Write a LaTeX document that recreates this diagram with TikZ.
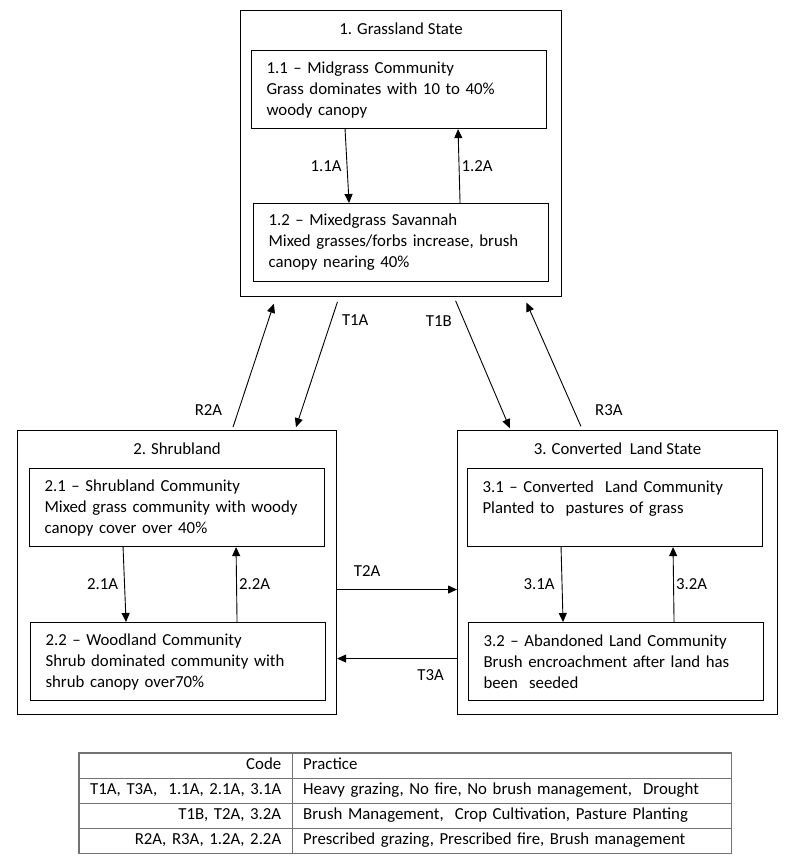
\documentclass[tikz,border=0pt]{standalone}
\usepackage{fontspec}
\setmainfont{Carlito}
\usetikzlibrary{arrows.meta, positioning, matrix}

\begin{document}
\begin{tikzpicture}[
    x=1pt, y=-1pt,
    font=\fontsize{16.8}{21}\selectfont,
    state/.style={draw, line width=1.1pt, anchor=north west, inner sep=0pt, minimum width=320pt, minimum height=284pt},
    title/.style={anchor=base, yshift=-24pt},
    phase/.style={draw, line width=1.1pt, anchor=north west, text width=265pt, align=left, inner xsep=15pt, inner ysep=9pt, minimum height=78pt},
    arrow/.style={-{Triangle[length=9pt, width=8pt]}, line width=0.9pt},
    code/.style={inner sep=2pt},
    rule/.style={draw=black!55, line width=1.3pt}
]
    \useasboundingbox (0,0) rectangle (800,868);

    % States
    \node[state, minimum width=321pt, minimum height=286pt, label={[title]north:1. Grassland State}] (grass) at (240,10) {};
    \node[state, minimum width=319pt, label={[title]north:2. Shrubland}] (shrub) at (17,430) {};
    \node[state, label={[title]north:3. Converted\ \ Land State}] (conv) at (457,430) {};

    % Community phases
    \node[phase] (p11) at (251,50) {1.1 -- Midgrass Community\\Grass dominates with 10 to 40\%\\woody canopy};
    \node[phase] (p12) at (253,203) {1.2 -- Mixedgrass Savannah\\Mixed grasses/forbs increase, brush\\canopy nearing 40\%};
    \node[phase] (p21) at (29,468) {2.1 -- Shrubland Community\\Mixed grass community with woody\\canopy cover over 40\%};
    \node[phase] (p22) at (30,622) {2.2 -- Woodland Community\\Shrub dominated community with\\shrub canopy over70\%};
    \node[phase] (p31) at (467,468) {3.1 -- Converted\ \ Land Community\\Planted to\ \ pastures of grass\\\mbox{}};
    \node[phase] (p32) at (468,622) {3.2 -- Abandoned Land Community\\Brush encroachment after land has\\been\ \ seeded};

    % Pathways within states
    \draw[arrow] ([xshift=-54pt]p11.south) -- node[code, left=3pt] {1.1A} ([xshift=-52pt]p12.north);
    \draw[arrow] ([xshift=59pt]p12.north) -- node[code, right] {1.2A} ([xshift=59pt]p11.south);
    \draw[arrow] ([xshift=-54pt]p21.south) -- node[code, left=4pt] {2.1A} ([xshift=-52pt]p22.north);
    \draw[arrow] ([xshift=59pt]p22.north) -- node[code, right] {2.2A} ([xshift=59pt]p21.south);
    \draw[arrow] ([xshift=-54pt]p31.south) -- node[code, left=5pt] {3.1A} ([xshift=-53pt]p32.north);
    \draw[arrow] ([xshift=58pt]p32.north) -- node[code, right] {3.2A} ([xshift=58pt]p31.south);

    % Transitions and restorations between states
    \draw[arrow, shorten <=5pt, shorten >=3pt] ([xshift=-62pt]grass.south) -- node[code, pos=0.17, right=8pt] {T1A} ([xshift=118pt]shrub.north);
    \draw[arrow, shorten <=3pt, shorten >=7pt] ([xshift=55pt]shrub.north) -- node[code, pos=0.15, left=14pt] {R2A} ([xshift=-125pt]grass.south);
    \draw[arrow, shorten <=4pt, shorten >=2pt] ([xshift=53pt]grass.south) -- node[code, pos=0.18, left=10pt] {T1B} ([xshift=-107pt]conv.north);
    \draw[arrow, shorten <=4pt, shorten >=6pt] ([xshift=-35pt]conv.north) -- node[code, pos=0.15, right=19pt] {R3A} ([xshift=123pt]grass.south);
    \draw[arrow] ([yshift=-17pt]shrub.east) -- node[code, pos=0.25, above=11pt] {T2A} ([yshift=-17pt]conv.west);
    \draw[arrow] ([yshift=-86pt]conv.west) -- node[code, pos=0.22, below=9pt] {T3A} ([yshift=-86pt]shrub.east);

    % Legend table
    \matrix (legend) [matrix of nodes, anchor=north west, inner sep=0pt,
        nodes={inner xsep=11pt, inner ysep=0pt, minimum height=25pt, text height=12pt, text depth=4pt},
        column 1/.style={nodes={text width=191pt, align=right}},
        column 2/.style={nodes={text width=417pt, align=left}}] at (79,753) {
        Code & Practice \\
        T1A, T3A,\ \ 1.1A, 2.1A, 3.1A & Heavy grazing, No fire, No brush management,\ \ Drought \\
        T1B, T2A, 3.2A & Brush Management,\ \ Crop Cultivation, Pasture Planting \\
        R2A, R3A, 1.2A, 2.2A & Prescribed grazing, Prescribed fire, Brush management \\
    };
    \draw[rule] (legend.north west) rectangle (legend.south east);
    \foreach \row in {1,2,3}
        \draw[rule] (legend-\row-1.south west) -- (legend-\row-2.south east);
    \draw[rule] (legend-1-1.north east) -- (legend-4-1.south east);
\end{tikzpicture}
\end{document}
